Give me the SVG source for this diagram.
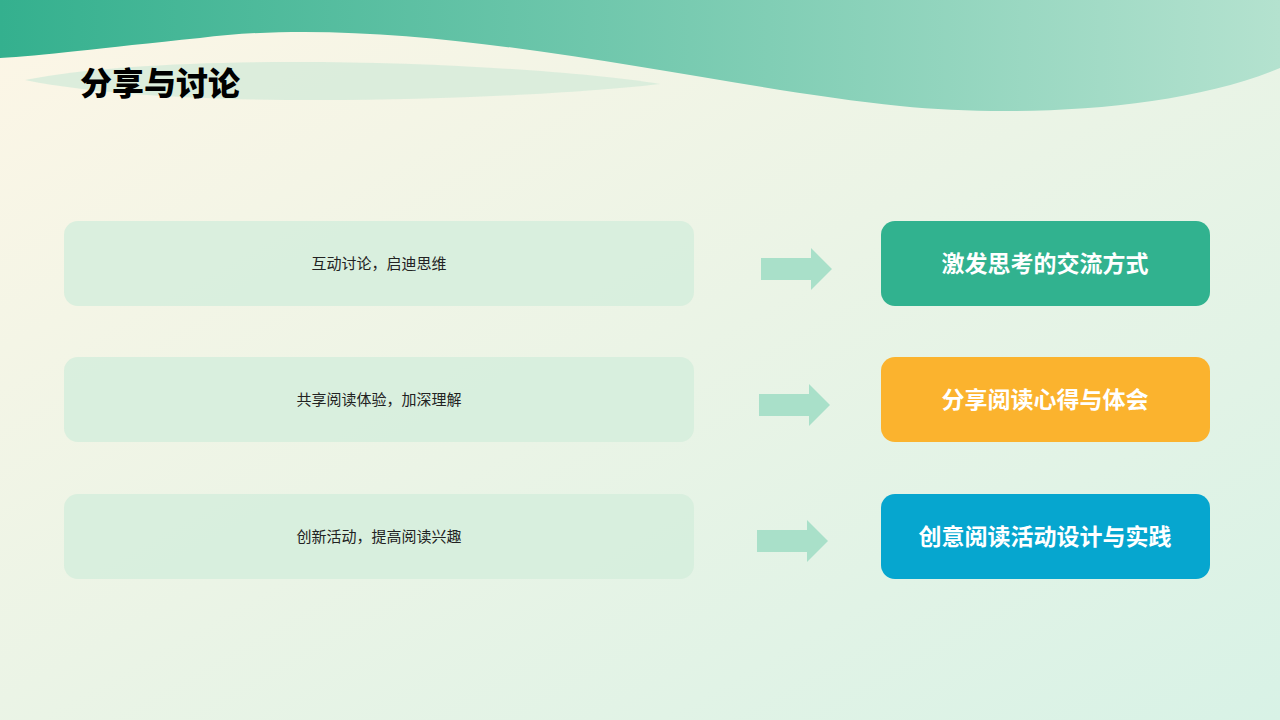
<svg xmlns="http://www.w3.org/2000/svg" width="1280" height="720" viewBox="0 0 1280 720">
<defs>
<linearGradient id="bg" x1="0" y1="0" x2="1" y2="1"><stop offset="0" stop-color="#fdf6e6"/><stop offset="1" stop-color="#d8f2e6"/></linearGradient>
<linearGradient id="wave" x1="0" y1="0" x2="1" y2="0"><stop offset="0" stop-color="#34b08e"/><stop offset="1" stop-color="#b4e2cf"/></linearGradient>
<style>
.box{fill:#d5eddc;opacity:0.85}
.arr{fill:#a9e0c9}
.t{font-family:"Noto Sans CJK SC",sans-serif;font-size:15px;fill:#222;text-anchor:middle}
.b{font-family:"Noto Sans CJK SC",sans-serif;font-size:23px;font-weight:bold;fill:#fff;text-anchor:middle}
</style>
</defs>
<rect width="1280" height="720" fill="url(#bg)"/>
<path d="M0 0H1280V68C1180 110 1020 118 900 106C700 86 420 10 200 38C100 48 40 56 0 58Z" fill="url(#wave)"/>
<path d="M25 80C180 50 520 62 660 84C520 100 180 112 25 80Z" fill="#d4ebd9" opacity="0.8"/>
<text x="80" y="95" font-family="Noto Sans CJK SC,sans-serif" font-size="32" font-weight="900" fill="#000">分享与讨论</text>
<g id="connectors">
<path class="arr" d="M761 258H811V248L832 269L811 290V280H761Z"/>
<path class="arr" d="M759 394H809V384L830 405L809 426V416H759Z"/>
<path class="arr" d="M757 530H807V520L828 541L807 562V552H757Z"/>
</g>
<g id="l1"><rect class="box" x="64" y="221" width="630" height="85" rx="14"/><text class="t" x="379" y="269">互动讨论，启迪思维</text></g>
<g id="l2"><rect class="box" x="64" y="357" width="630" height="85" rx="14"/><text class="t" x="379" y="405">共享阅读体验，加深理解</text></g>
<g id="l3"><rect class="box" x="64" y="494" width="630" height="85" rx="14"/><text class="t" x="379" y="542">创新活动，提高阅读兴趣</text></g>
<g id="r1"><rect x="881" y="221" width="329" height="85" rx="14" fill="#31b28f"/><text class="b" x="1045" y="272">激发思考的交流方式</text></g>
<g id="r2"><rect x="881" y="357" width="329" height="85" rx="14" fill="#fbb32e"/><text class="b" x="1045" y="408">分享阅读心得与体会</text></g>
<g id="r3"><rect x="881" y="494" width="329" height="85" rx="14" fill="#06a6cf"/><text class="b" x="1045" y="545">创意阅读活动设计与实践</text></g>
</svg>
